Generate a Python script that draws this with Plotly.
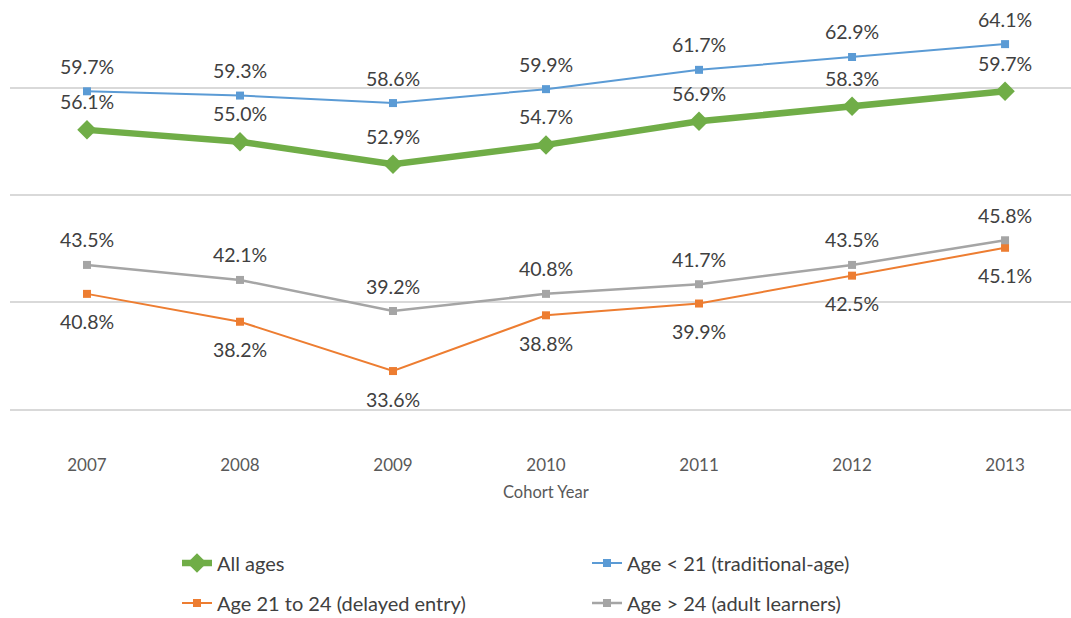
import plotly.graph_objects as go

years = [2007, 2008, 2009, 2010, 2011, 2012, 2013]
all_ages = [56.1, 55.0, 52.9, 54.7, 56.9, 58.3, 59.7]
age_lt21 = [59.7, 59.3, 58.6, 59.9, 61.7, 62.9, 64.1]
age_21_24 = [40.8, 38.2, 33.6, 38.8, 39.9, 42.5, 45.1]
age_gt24 = [43.5, 42.1, 39.2, 40.8, 41.7, 43.5, 45.8]

FONT = "Lato"
TXT = "#404040"

fig = go.Figure()

series = [
    ("All ages", all_ages, "#70AD47", 6.5, "diamond", 15, "legend", 28),
    ("Age < 21 (traditional-age)", age_lt21, "#5B9BD5", 2, "square", 8, "legend", 25),
    ("Age 21 to 24 (delayed entry)", age_21_24, "#ED7D31", 2, "square", 8, "legend2", -28),
    ("Age > 24 (adult learners)", age_gt24, "#A5A5A5", 2.5, "square", 8, "legend2", 25),
]

for name, vals, color, lw, sym, ms, leg, shift in series:
    fig.add_trace(go.Scatter(
        x=years, y=vals, name=name, mode="lines+markers",
        line=dict(color=color, width=lw),
        marker=dict(symbol=sym, size=ms, color=color),
        legend=leg,
    ))
    for xv, yv in zip(years, vals):
        fig.add_annotation(
            x=xv, y=yv, xref="x", yref="y", text=f"{yv:.1f}%",
            showarrow=False, yshift=shift,
            font=dict(family=FONT, size=19.5, color=TXT),
        )

fig.add_annotation(
    x=2010, y=(415 - 492) / 395, xref="x", yref="paper", text="Cohort Year",
    showarrow=False, yanchor="middle",
    font=dict(family=FONT, size=16.5, color="#595959"),
)

fig.update_layout(
    width=1071, height=618,
    margin=dict(l=10, r=0, t=20, b=203),
    paper_bgcolor="white", plot_bgcolor="white",
    font=dict(family=FONT, color=TXT),
    xaxis=dict(
        range=[2006.497, 2013.431], tickmode="array", tickvals=years,
        ticktext=[str(y) for y in years], showgrid=False, zeroline=False,
        showline=False, ticks="", ticklabelstandoff=38,
        tickfont=dict(family=FONT, size=17, color="#595959"),
    ),
    yaxis=dict(
        range=[29.5, 66.35], tickvals=[30, 40, 50, 60], showticklabels=False,
        showgrid=True, gridcolor="#D9D9D9", gridwidth=1.5, zeroline=False,
        showline=False,
    ),
    legend=dict(
        orientation="h", x=177 / 1071, xref="container", xanchor="left",
        y=1 - 563 / 618, yref="container", yanchor="middle",
        entrywidth=365, entrywidthmode="pixels",
        font=dict(family=FONT, size=20, color=TXT), bgcolor="rgba(0,0,0,0)",
    ),
    legend2=dict(
        orientation="h", x=177 / 1071, xref="container", xanchor="left",
        y=1 - 603 / 618, yref="container", yanchor="middle",
        entrywidth=365, entrywidthmode="pixels",
        font=dict(family=FONT, size=20, color=TXT), bgcolor="rgba(0,0,0,0)",
    ),
    showlegend=True,
)

fig.write_html(
    "out.html",
    config={"displayModeBar": False},
    post_script="document.body.style.margin='0';document.body.style.overflow='hidden';",
)
